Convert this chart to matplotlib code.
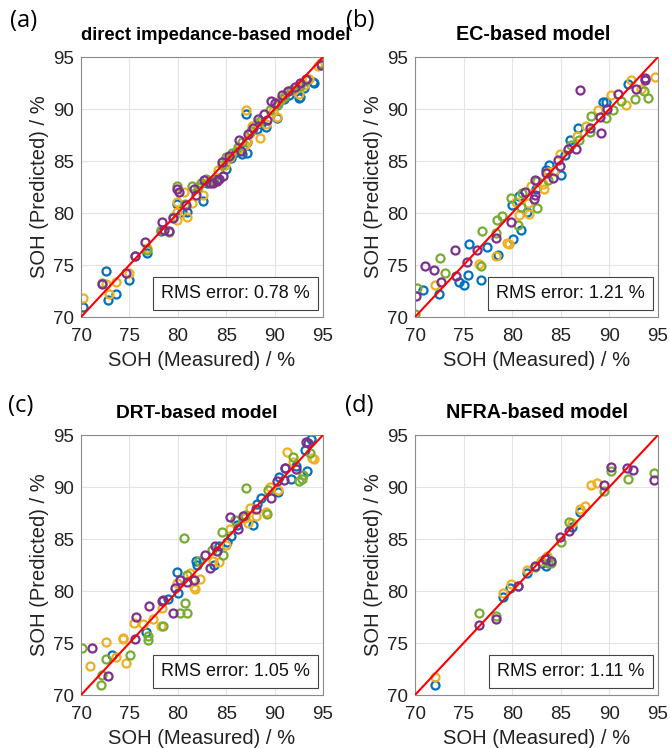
import matplotlib
matplotlib.use("Agg")
import matplotlib.pyplot as plt

plt.rcParams['font.family'] = ['Liberation Sans', 'DejaVu Sans']

colors = {'blue': '#0072BD', 'yellow': '#EDB120', 'green': '#77AC30', 'purple': '#7E2F8E'}

# ---------------- Panel (a): direct impedance-based model ----------------
a_blue_x = [70.2, 72.6, 72.8, 73.6, 75.0, 76.8, 78.3, 79.9, 80.4, 81.0, 82.6, 83.0, 84.0, 85.0, 85.5,
            86.0, 86.6, 87.1, 87.2, 87.0, 88.2, 88.6, 89.1, 90.2, 90.2, 91.0, 91.5, 92.5, 92.6, 93.0, 94.1, 94.0]
a_blue_y = [71.0, 74.4, 71.6, 72.2, 73.6, 76.2, 78.3, 80.9, 80.1, 80.1, 81.2, 82.9, 83.3, 84.2, 85.3,
            85.9, 85.7, 85.8, 86.8, 89.5, 88.1, 88.6, 88.3, 89.1, 90.4, 91.0, 91.3, 91.1, 91.2, 92.0, 92.5, 92.6]
a_yellow_x = [70.2, 72.6, 72.9, 73.6, 75.0, 76.8, 79.9, 79.9, 79.9, 80.6, 81.0, 81.5, 82.6, 83.2, 84.2, 84.9,
              85.4, 86.2, 86.9, 87.0, 87.2, 87.5, 87.7, 88.2, 88.5, 89.1, 89.8, 90.2, 90.6, 91.3, 92.0, 92.5,
              93.0, 93.6, 94.5]
a_yellow_y = [71.8, 73.2, 72.2, 73.4, 74.2, 76.6, 79.3, 81.1, 80.1, 82.0, 79.6, 81.0, 81.7, 83.1, 84.1, 84.6,
              85.4, 86.2, 86.5, 89.9, 86.9, 87.7, 88.4, 88.7, 87.2, 88.6, 89.8, 89.2, 90.9, 91.6, 91.8, 91.4,
              92.3, 92.9, 94.1]
a_green_x = [72.2, 75.6, 76.8, 78.3, 79.1, 79.5, 79.9, 80.7, 81.5, 82.1, 82.4, 82.9, 83.7, 84.6, 85.0, 85.6,
             86.2, 86.6, 87.6, 88.5, 89.5, 90.3, 91.0, 91.7, 92.6, 93.2, 94.8]
a_green_y = [73.3, 75.9, 76.4, 78.4, 78.2, 79.6, 82.6, 80.9, 82.6, 82.5, 82.9, 83.3, 83.1, 84.6, 85.4, 85.8,
             86.3, 86.8, 87.9, 88.8, 89.9, 90.5, 91.2, 91.8, 92.2, 92.8, 94.4]
a_purple_x = [72.2, 74.6, 75.6, 76.6, 78.4, 78.6, 79.1, 79.5, 79.9, 80.1, 80.8, 81.7, 81.9, 82.7, 83.3, 83.6,
              84.0, 84.3, 84.7, 84.6, 85.3, 86.3, 86.5, 87.3, 87.8, 88.3, 88.9, 89.2, 89.6, 90.0, 90.8, 91.4,
              92.1, 92.6, 93.2, 94.8]
a_purple_y = [73.2, 74.2, 75.9, 77.2, 79.1, 78.4, 78.3, 79.5, 82.3, 82.0, 80.8, 82.3, 81.7, 83.2, 82.9, 82.9,
              83.1, 83.3, 83.6, 84.9, 85.5, 87.0, 86.0, 87.6, 88.2, 89.0, 89.5, 88.9, 90.8, 90.6, 91.3, 91.7,
              92.1, 92.5, 92.9, 94.2]

# ---------------- Panel (b): EC-based model ----------------
b_blue_x = [70.8, 72.5, 74.5, 75.0, 75.5, 75.6, 76.8, 77.4, 78.5, 80.1, 80.0, 80.9, 80.7, 81.5, 82.4, 83.5,
            83.8, 85.0, 85.4, 85.9, 86.8, 89.3, 89.7, 91.9]
b_blue_y = [72.6, 72.2, 73.4, 73.1, 74.0, 77.0, 73.6, 76.7, 76.0, 77.5, 80.8, 78.4, 81.6, 80.1, 82.3, 84.1,
            84.6, 83.7, 85.6, 87.0, 88.2, 90.7, 90.7, 92.4]
b_yellow_x = [72.1, 76.6, 78.3, 79.5, 79.7, 80.4, 80.7, 81.7, 81.6, 81.9, 83.3, 83.2, 83.7, 84.3, 84.9, 86.7,
              87.6, 88.8, 90.2, 91.7, 92.2, 93.3, 94.7]
b_yellow_y = [73.1, 75.1, 75.9, 77.1, 77.0, 81.1, 79.8, 79.9, 81.0, 82.6, 82.3, 82.8, 83.9, 84.0, 85.7, 87.4,
              88.4, 89.9, 91.3, 90.4, 92.8, 91.9, 93.1]
b_green_x = [70.0, 70.2, 72.6, 73.1, 76.8, 76.9, 78.3, 78.4, 79.0, 79.9, 80.6, 80.9, 81.0, 82.5, 82.6, 83.7,
             86.1, 86.9, 88.0, 88.1, 89.6, 90.4, 91.2, 92.6, 93.6, 94.0]
b_green_y = [70.3, 72.8, 75.7, 74.2, 74.9, 78.3, 78.1, 79.3, 79.7, 81.4, 78.8, 80.6, 81.9, 80.5, 83.1, 83.2,
             86.5, 87.0, 87.8, 89.3, 89.1, 89.9, 90.8, 91.0, 91.7, 91.1]
b_purple_x = [70.1, 71.0, 72.0, 72.7, 74.1, 74.2, 75.3, 76.4, 78.3, 79.9, 81.3, 82.2, 82.3, 82.3, 83.5, 84.2,
              84.9, 84.7, 85.7, 86.6, 87.0, 88.0, 89.1, 89.0, 89.8, 90.9, 92.7, 93.7, 93.7]
b_purple_y = [72.0, 74.9, 74.5, 73.4, 76.4, 73.9, 75.3, 76.4, 77.6, 79.1, 82.0, 81.3, 81.7, 83.2, 83.8, 83.4,
              84.5, 85.1, 86.2, 86.2, 91.8, 88.2, 87.7, 89.2, 90.0, 91.4, 91.9, 92.8, 93.0]

# ---------------- Panel (c): DRT-based model ----------------
c_blue_x = [73.2, 76.7, 79.0, 80.0, 79.9, 81.7, 81.9, 82.0, 83.7, 84.3, 85.1, 85.5, 86.1, 87.8, 88.2, 88.6,
            90.4, 90.5, 91.1, 91.7, 92.2, 93.3, 93.1, 93.8]
c_blue_y = [73.8, 76.1, 79.2, 79.8, 81.8, 81.1, 82.9, 82.5, 82.5, 84.3, 84.7, 85.3, 86.3, 86.3, 88.4, 88.9,
            89.5, 91.0, 91.8, 90.8, 92.0, 91.5, 93.6, 94.6]
c_yellow_x = [70.9, 72.6, 73.6, 74.3, 74.3, 74.7, 75.5, 76.4, 77.4, 78.3, 78.4, 79.9, 81.3, 81.7, 81.8, 82.3,
              83.6, 84.3, 85.0, 85.4, 86.9, 87.3, 87.5, 88.1, 89.1, 89.5, 90.3, 91.3, 91.9, 93.9, 94.1]
c_yellow_y = [72.8, 75.1, 73.7, 75.4, 75.5, 73.1, 76.9, 76.8, 77.3, 76.6, 78.4, 80.8, 81.7, 80.4, 80.2, 81.2,
              82.9, 82.8, 84.4, 86.0, 87.0, 86.5, 88.0, 87.2, 87.6, 90.0, 89.7, 93.4, 92.4, 92.8, 92.7]
c_green_x = [70.1, 72.1, 72.2, 72.6, 75.1, 76.9, 76.9, 78.5, 80.2, 80.7, 81.0, 80.6, 80.9, 82.2, 83.5, 84.7,
             84.6, 85.9, 87.0, 86.9, 89.2, 89.3, 91.9, 92.5, 92.8, 92.9, 93.7]
c_green_y = [74.5, 71.0, 71.9, 73.5, 73.8, 75.7, 75.3, 76.6, 77.9, 78.8, 77.9, 85.1, 81.5, 82.9, 83.9, 83.5,
             85.7, 86.8, 89.9, 87.3, 87.4, 89.7, 92.9, 90.6, 90.8, 91.2, 93.3]
c_purple_x = [71.1, 72.8, 75.6, 75.7, 77.0, 78.4, 78.5, 79.5, 79.7, 80.2, 80.9, 81.7, 82.8, 83.3, 83.8, 84.0,
              85.4, 86.2, 86.7, 88.1, 89.6, 90.2, 91.1, 91.0, 92.2, 93.2, 93.4]
c_purple_y = [74.5, 71.8, 75.4, 77.5, 78.6, 79.0, 79.1, 77.9, 80.3, 81.1, 80.9, 81.1, 83.5, 82.2, 84.3, 83.8,
              87.1, 86.0, 87.2, 87.9, 88.9, 90.6, 91.8, 90.7, 91.7, 94.3, 94.2]

# ---------------- Panel (d): NFRA-based model ----------------
d_blue_x = [72.1, 79.1, 79.8, 81.5, 83.1, 83.5, 83.6, 86.2, 87.0]
d_blue_y = [71.0, 79.4, 80.3, 81.7, 82.7, 82.4, 83.2, 86.2, 87.6]
d_yellow_x = [72.1, 79.1, 79.9, 81.5, 83.0, 83.6, 86.2, 87.0, 87.5, 88.1, 88.7]
d_yellow_y = [71.7, 79.8, 80.7, 82.0, 82.9, 83.4, 86.5, 87.9, 88.2, 90.2, 90.4]
d_green_x = [76.6, 78.3, 80.6, 82.3, 83.7, 84.0, 85.0, 85.8, 89.4, 90.2, 91.9, 94.6]
d_green_y = [77.9, 77.6, 80.5, 82.3, 82.7, 82.7, 84.7, 86.6, 89.6, 91.5, 90.8, 91.3]
d_purple_x = [76.6, 78.3, 80.6, 82.3, 83.4, 84.0, 84.9, 85.8, 89.4, 90.2, 91.8, 92.4, 94.6]
d_purple_y = [76.7, 77.3, 80.5, 82.4, 83.1, 82.9, 85.2, 85.8, 90.2, 91.9, 91.8, 91.6, 90.7]

ticks = [70, 75, 80, 85, 90, 95]
titles = ['direct impedance-based model', 'EC-based model', 'DRT-based model', 'NFRA-based model']
labels = ['(a)', '(b)', '(c)', '(d)']
rms = ['RMS error: 0.78 %', 'RMS error: 1.21 %', 'RMS error: 1.05 %', 'RMS error: 1.11 %']

panels = [
    [(a_blue_x, a_blue_y, 'blue'), (a_yellow_x, a_yellow_y, 'yellow'), (a_green_x, a_green_y, 'green'), (a_purple_x, a_purple_y, 'purple')],
    [(b_blue_x, b_blue_y, 'blue'), (b_yellow_x, b_yellow_y, 'yellow'), (b_green_x, b_green_y, 'green'), (b_purple_x, b_purple_y, 'purple')],
    [(c_blue_x, c_blue_y, 'blue'), (c_yellow_x, c_yellow_y, 'yellow'), (c_green_x, c_green_y, 'green'), (c_purple_x, c_purple_y, 'purple')],
    [(d_blue_x, d_blue_y, 'blue'), (d_yellow_x, d_yellow_y, 'yellow'), (d_green_x, d_green_y, 'green'), (d_purple_x, d_purple_y, 'purple')],
]

fig = plt.figure(figsize=(6.7, 7.48), dpi=100)
W, H = 670, 748
rects = [(81, 57, 242, 260), (415, 57, 243, 260), (81, 435, 242, 260), (415, 435, 243, 260)]
label_pos = [(10, 21), (346, 21), (8, 406), (345, 406)]
title_x = [0.555, 0.485, 0.48, 0.5]
title_fs = [13.2, 14.2, 13.8, 14.2]

for i, (l, t, w, h) in enumerate(rects):
    ax = fig.add_axes([l / W, (H - t - h) / H, w / W, h / H])
    ax.set_xlim(70, 95)
    ax.set_ylim(70, 95)
    ax.set_xticks(ticks)
    ax.set_yticks(ticks)
    ax.grid(True, color='#e3e3e3', lw=0.8)
    ax.set_axisbelow(True)
    for s in ax.spines.values():
        s.set_color('#8c8c8c')
        s.set_linewidth(0.8)
    ax.tick_params(axis='x', labelsize=13.5, length=0, pad=8, colors='#222222')
    ax.tick_params(axis='y', labelsize=13.5, length=0, pad=5, colors='#222222')
    for xs, ys, c in panels[i]:
        ax.plot(xs, ys, 'o', ls='none', mfc='none', mec=colors[c], ms=5.8, mew=1.6)
    ax.plot([70, 95], [70, 95], color='#ff0000', lw=1.5, zorder=5)
    ax.set_xlabel('SOH (Measured) / %', fontsize=14.5, labelpad=4, color='#222222')
    ax.set_ylabel('SOH (Predicted) / %', fontsize=14.5, labelpad=3, color='#222222')
    ax.set_title(titles[i], fontsize=title_fs[i], fontweight='bold', pad=12, x=title_x[i])
    ax.text(0.945, 0.058, rms[i], transform=ax.transAxes, ha='right', va='bottom', fontsize=13,
            color='#111111',
            bbox=dict(boxstyle='square,pad=0.45', fc='white', ec='#444444', lw=0.8), zorder=10)
    lx, ly = label_pos[i]
    fig.text(lx / W, 1 - ly / H, labels[i], fontsize=17, family=['Open Sans', 'DejaVu Sans'],
             ha='left', va='center')

fig.savefig('out.png', dpi=100)
